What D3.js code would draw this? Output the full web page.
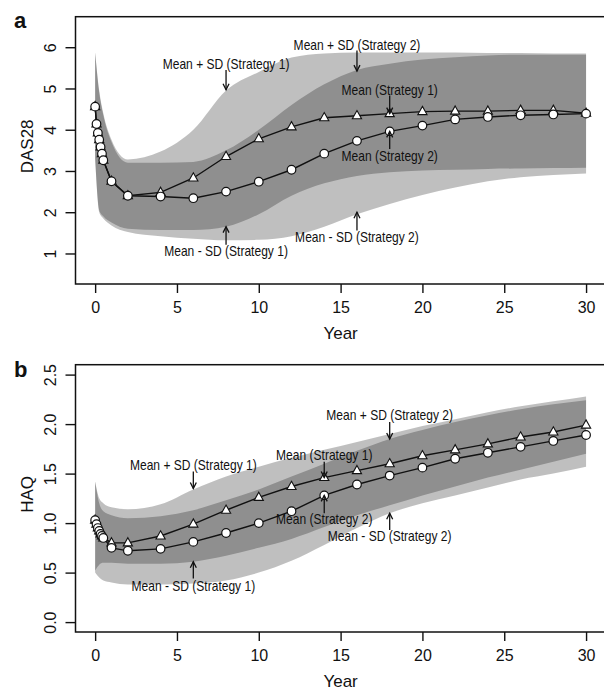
<!DOCTYPE html>
<html>
<head>
<meta charset="utf-8">
<title>DAS28 and HAQ over time</title>
<script src="https://cdn.jsdelivr.net/npm/d3@7"></script>
<style>
  body { margin: 0; background: #fff; }
  svg { display: block; font-family: "Liberation Sans", Arial, sans-serif; }
</style>
</head>
<body>
<script>
// time points of the mean markers (years)
var pointYears = [0, 0.083, 0.167, 0.25, 0.333, 0.417, 0.5, 1, 2, 4, 6, 8, 10, 12, 14, 16, 18, 20, 22, 24, 26, 28, 30];
// time points of the SD bands
var bandYears = [0, 0.25, 0.5, 1, 2, 4, 6, 8, 10, 12, 14, 16, 18, 20, 22, 24, 26, 28, 30];
var xTicks = [0, 5, 10, 15, 20, 25, 30];

// panel a : DAS28
var das1 = [4.56, 4.14, 3.92, 3.76, 3.58, 3.42, 3.26, 2.75, 2.40, 2.48, 2.83, 3.35, 3.78, 4.07, 4.29, 4.34, 4.39, 4.44, 4.45, 4.45, 4.47, 4.47, 4.40];
var das2 = [4.56, 4.14, 3.92, 3.76, 3.58, 3.42, 3.26, 2.75, 2.40, 2.38, 2.34, 2.50, 2.74, 3.03, 3.42, 3.73, 3.96, 4.10, 4.25, 4.31, 4.35, 4.37, 4.39];
var das1Up = [5.87, 4.95, 4.40, 3.76, 3.28, 3.47, 4.00, 4.95, 5.40, 5.75, 5.85, 5.87, 5.87, 5.87, 5.87, 5.86, 5.86, 5.85, 5.85];
var das1Lo = [3.30, 2.05, 1.90, 1.75, 1.60, 1.57, 1.57, 1.65, 1.95, 2.40, 2.70, 2.88, 2.97, 3.01, 3.03, 3.05, 3.06, 3.07, 3.08];
var das2Up = [5.87, 4.90, 4.35, 3.70, 3.20, 3.20, 3.22, 3.50, 4.00, 4.60, 5.10, 5.45, 5.60, 5.70, 5.76, 5.80, 5.82, 5.82, 5.82];
var das2Lo = [3.30, 2.00, 1.85, 1.68, 1.52, 1.42, 1.36, 1.32, 1.33, 1.42, 1.65, 1.95, 2.20, 2.42, 2.60, 2.75, 2.85, 2.90, 2.94];
var dasTicks = [1, 2, 3, 4, 5, 6];

// panel b : HAQ
var haq1 = [1.03, 0.99, 0.95, 0.92, 0.89, 0.87, 0.85, 0.80, 0.80, 0.87, 0.99, 1.13, 1.26, 1.37, 1.46, 1.53, 1.60, 1.68, 1.74, 1.80, 1.87, 1.92, 1.99];
var haq2 = [1.03, 0.99, 0.95, 0.92, 0.89, 0.87, 0.85, 0.75, 0.72, 0.74, 0.81, 0.90, 1.00, 1.12, 1.28, 1.39, 1.48, 1.56, 1.65, 1.71, 1.77, 1.83, 1.89];
var haq1Up = [1.42, 1.25, 1.20, 1.16, 1.14, 1.19, 1.34, 1.47, 1.57, 1.66, 1.74, 1.82, 1.90, 1.98, 2.05, 2.12, 2.18, 2.23, 2.28];
var haq1Lo = [0.52, 0.58, 0.60, 0.60, 0.59, 0.59, 0.61, 0.67, 0.75, 0.84, 0.96, 1.08, 1.18, 1.28, 1.37, 1.46, 1.54, 1.62, 1.70];
var haq2Up = [1.42, 1.20, 1.12, 1.08, 1.05, 1.07, 1.13, 1.23, 1.34, 1.47, 1.60, 1.73, 1.85, 1.94, 2.02, 2.09, 2.15, 2.20, 2.24];
var haq2Lo = [0.50, 0.45, 0.42, 0.40, 0.38, 0.38, 0.39, 0.42, 0.50, 0.62, 0.78, 0.95, 1.10, 1.20, 1.28, 1.36, 1.44, 1.50, 1.57];
var haqTicks = [0, 0.5, 1, 1.5, 2, 2.5];

// labels with arrows (year, label value, arrow start, arrow tip)
var dasNotes = [
  {text: "Mean + SD (Strategy 1)", t: 8, v: 5.60, from: 5.45, to: 4.97},
  {text: "Mean + SD (Strategy 2)", t: 16, v: 6.06, from: 5.92, to: 5.42},
  {text: "Mean (Strategy 1)", t: 18, v: 4.97, from: 4.83, to: 4.39},
  {text: "Mean (Strategy 2)", t: 18, v: 3.37, from: 3.53, to: 3.96},
  {text: "Mean - SD (Strategy 1)", t: 8, v: 1.05, from: 1.21, to: 1.65},
  {text: "Mean - SD (Strategy 2)", t: 16, v: 1.39, from: 1.56, to: 2.00}
];
var haqNotes = [
  {text: "Mean + SD (Strategy 2)", t: 18, v: 2.09, from: 2.02, to: 1.85},
  {text: "Mean (Strategy 1)", t: 14, v: 1.69, from: 1.62, to: 1.46},
  {text: "Mean + SD (Strategy 1)", t: 6, v: 1.59, from: 1.52, to: 1.35},
  {text: "Mean (Strategy 2)", t: 14, v: 1.04, from: 1.10, to: 1.28},
  {text: "Mean - SD (Strategy 2)", t: 18, v: 0.87, from: 0.93, to: 1.10},
  {text: "Mean - SD (Strategy 1)", t: 6, v: 0.37, from: 0.44, to: 0.61}
];

var svg = d3.select("body").append("svg")
    .attr("width", 604)
    .attr("height", 691);

var x = d3.scaleLinear().domain([-1.2, 31.2]).range([75.5, 605.7]);

function drawPanel(p) {
  var y = d3.scaleLinear().domain(p.yDomain).range(p.yRange);
  var g = svg.append("g");

  // SD bands, overlap gets darker
  var area = d3.area()
      .x(function(d) { return x(d.t); })
      .y0(function(d) { return y(d.lo); })
      .y1(function(d) { return y(d.up); })
      .curve(d3.curveMonotoneX);
  [[p.up1, p.lo1], [p.up2, p.lo2]].forEach(function(b) {
    var rows = bandYears.map(function(t, i) { return {t: t, up: b[0][i], lo: b[1][i]}; });
    g.append("path").datum(rows)
      .attr("d", area)
      .attr("fill", "#000")
      .attr("fill-opacity", 0.25);
  });

  // mean lines
  var line = d3.line()
      .x(function(d, i) { return x(pointYears[i]); })
      .y(function(d) { return y(d); });
  [p.m1, p.m2].forEach(function(m) {
    g.append("path").datum(m)
      .attr("d", line)
      .attr("fill", "none")
      .attr("stroke", "#111")
      .attr("stroke-width", 1.4);
  });

  // triangles (strategy 1) then circles (strategy 2)
  g.selectAll(".tri").data(p.m1).enter().append("path")
    .attr("transform", function(d, i) { return "translate(" + x(pointYears[i]) + "," + y(d) + ")"; })
    .attr("d", "M0,-5.2L4.6,3L-4.6,3Z")
    .attr("fill", "#fff")
    .attr("stroke", "#111")
    .attr("stroke-width", 1.1);
  g.selectAll(".dot").data(p.m2).enter().append("circle")
    .attr("cx", function(d, i) { return x(pointYears[i]); })
    .attr("cy", function(d) { return y(d); })
    .attr("r", 4.3)
    .attr("fill", "#fff")
    .attr("stroke", "#111")
    .attr("stroke-width", 1.2);

  // annotations
  p.notes.forEach(function(n) {
    var cx = x(n.t);
    g.append("text")
      .attr("transform", "translate(" + cx + "," + y(n.v) + ") scale(0.86,1)")
      .attr("text-anchor", "middle")
      .attr("dy", "0.36em")
      .attr("font-size", 14)
      .attr("fill", "#111")
      .text(n.text);
    var y0 = y(n.from), y1 = y(n.to), s = y1 > y0 ? 1 : -1;
    g.append("line")
      .attr("x1", cx).attr("x2", cx)
      .attr("y1", y0).attr("y2", y1)
      .attr("stroke", "#111").attr("stroke-width", 1.3);
    g.append("path")
      .attr("d", "M" + (cx - 3) + "," + (y1 - s * 6) + "L" + cx + "," + y1 + "L" + (cx + 3) + "," + (y1 - s * 6))
      .attr("fill", "none")
      .attr("stroke", "#111").attr("stroke-width", 1.3);
  });

  // box
  g.append("rect")
    .attr("x", 75.5).attr("y", p.yRange[1])
    .attr("width", 540).attr("height", p.yRange[0] - p.yRange[1])
    .attr("fill", "none")
    .attr("stroke", "#111")
    .attr("stroke-width", 1.5);

  // axes
  var ax = g.append("g")
      .attr("transform", "translate(0," + p.yRange[0] + ")")
      .call(d3.axisBottom(x).tickValues(xTicks).tickSize(9).tickSizeOuter(0).tickPadding(8.5));
  ax.select(".domain").remove();
  ax.selectAll("text").attr("font-size", 16).attr("fill", "#111");
  ax.selectAll("line").attr("stroke", "#111").attr("stroke-width", 1.4);

  var ay = g.append("g")
      .attr("transform", "translate(75.5,0)")
      .call(d3.axisLeft(y).tickValues(p.yTicks).tickFormat(p.fmt).tickSize(10).tickSizeOuter(0));
  ay.select(".domain").remove();
  ay.selectAll("line").attr("stroke", "#111").attr("stroke-width", 1.4);
  ay.selectAll("text")
    .attr("x", 0).attr("dy", 0)
    .attr("text-anchor", "middle")
    .attr("transform", "translate(-19.5,0) rotate(-90)")
    .attr("font-size", 16).attr("fill", "#111");

  // titles
  var midY = (p.yRange[0] + p.yRange[1]) / 2;
  g.append("text")
    .attr("transform", "translate(33," + (midY - 4) + ") rotate(-90)")
    .attr("text-anchor", "middle")
    .attr("font-size", 17).attr("fill", "#111")
    .text(p.yTitle);
  g.append("text")
    .attr("x", x(15)).attr("y", p.yRange[0] + 55)
    .attr("text-anchor", "middle")
    .attr("font-size", 17).attr("fill", "#111")
    .text("Year");
  g.append("text")
    .attr("x", 14).attr("y", p.yRange[1] + p.letterDy)
    .attr("font-size", 22).attr("font-weight", "bold").attr("fill", "#111")
    .text(p.letter);
}

drawPanel({
  letter: "a", letterDy: 11, yTitle: "DAS28",
  yDomain: [0.26, 6.74], yRange: [284, 16.7], yTicks: dasTicks, fmt: d3.format("d"),
  m1: das1, m2: das2, up1: das1Up, lo1: das1Lo, up2: das2Up, lo2: das2Lo, notes: dasNotes
});
drawPanel({
  letter: "b", letterDy: 12, yTitle: "HAQ",
  yDomain: [-0.1, 2.6], yRange: [632, 364.7], yTicks: haqTicks, fmt: d3.format(".1f"),
  m1: haq1, m2: haq2, up1: haq1Up, lo1: haq1Lo, up2: haq2Up, lo2: haq2Lo, notes: haqNotes
});
</script>
</body>
</html>
